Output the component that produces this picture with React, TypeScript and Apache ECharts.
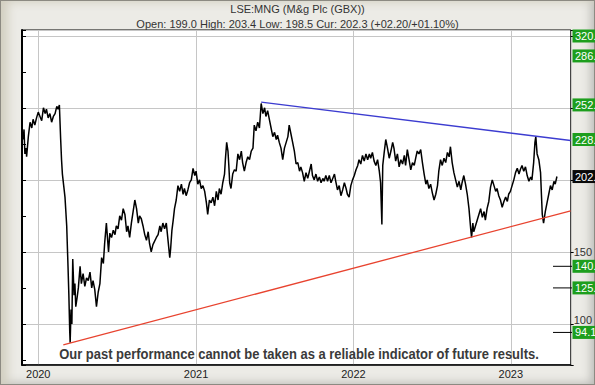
import React, { useEffect, useRef } from "react";
import * as echarts from "echarts";

const DAY = 86400000;
const EPOCH = Date.UTC(2020, 0, 1);
const FONT = "'Liberation Sans', Arial, sans-serif";

// Title texts
const TITLE = "LSE:MNG (M&g Plc (GBX))";
const SUBTITLE = "Open: 199.0 High: 203.4 Low: 198.5 Cur: 202.3 (+02.20/+01.10%)";
const DISCLAIMER = "Our past performance cannot be taken as a reliable indicator of future results.";

// Price readings: days since 1 Jan 2020 and price (GBX)
const dayOffsets = [
  -35, -33, -31, -28, -27, -23, -19, -15, -12, -8, -4, 0, 4, 8, 12, 16, 19, 23, 27, 31, 35, 39, 43, 46, 49, 52, 54, 56, 59, 62,
  64, 66, 69, 71, 73, 74, 76, 78, 80, 83, 85, 87, 90, 93, 97, 100, 104, 108, 112, 116, 120, 124, 127, 131, 135, 139, 143, 147, 151, 154,
  158, 161, 163, 166, 170, 174, 178, 181, 185, 189, 193, 197, 201, 205, 208, 212, 216, 220, 224, 228, 232, 235, 239, 243, 247, 251, 255, 258, 262, 266,
  274, 278, 282, 285, 289, 293, 297, 301, 305, 307, 310, 313, 316, 320, 324, 328, 332, 336, 339, 343, 347, 351, 355, 359, 363, 366, 370, 374, 378, 382,
  386, 390, 393, 397, 401, 405, 409, 413, 417, 420, 424, 428, 432, 434, 437, 440, 442, 444, 447, 451, 455, 459, 463, 467, 471, 474, 478, 482, 486, 490,
  494, 498, 501, 505, 509, 513, 517, 521, 525, 528, 532, 536, 540, 544, 548, 552, 555, 559, 563, 567, 571, 575, 579,
  582, 586, 590, 594, 598, 602, 606, 609, 613, 617, 621, 625, 629, 633, 636, 640, 644, 648, 652, 656, 660, 663, 667, 671, 675, 679, 683, 687, 690, 694,
  698, 702, 706, 710, 714, 717, 721, 725, 729, 733, 737, 741, 744, 748, 752, 756, 760, 764, 768, 771, 775, 779, 783, 787, 791, 794, 797, 799, 802, 806,
  810, 814, 818, 822, 825, 829, 833, 837, 841, 845, 849, 852, 856, 860, 864, 868, 872, 876, 879, 883, 887, 891,
  895, 899, 902, 906, 910, 914, 918, 922, 926, 929, 933, 937, 941, 945, 949, 953, 956, 960, 964, 968, 972, 976, 980, 983, 987, 991, 995, 999, 1003, 1005,
  1008, 1010, 1014, 1018, 1022, 1026, 1030, 1034, 1037, 1041, 1045, 1049, 1053, 1057, 1061, 1064, 1068, 1072, 1076, 1080, 1084, 1088, 1091, 1095, 1099, 1103, 1107, 1111, 1115, 1118,
  1122, 1126, 1130, 1134, 1138, 1142, 1145, 1149, 1152, 1154, 1157, 1161, 1165, 1167, 1169, 1172, 1176, 1180, 1184, 1188, 1192, 1196, 1199, 1203,
];
const prices = [
  228, 235, 218, 222, 216, 230, 240, 236, 242, 238, 243, 247, 244, 241, 250, 246, 249, 243, 246, 240, 244, 246, 251, 249, 252, 228, 214, 204, 196, 188,
  178, 168, 140, 120, 95, 87, 110, 100, 145, 120, 128, 112, 118, 125, 140, 128, 135, 126, 132, 130, 136, 125, 130, 124, 112, 122, 128, 146, 142, 156,
  170, 158, 150, 163, 160, 165, 162, 168, 166, 175, 172, 180, 176, 164, 168, 160, 170, 178, 186, 180, 170, 175, 173, 168, 162, 158, 164, 156, 150, 155,
  160, 162, 168, 164, 170, 166, 170, 158, 146, 152, 165, 172, 180, 186, 196, 192, 197, 190, 194, 189, 193, 198, 200, 208, 203, 206, 197, 200, 194, 196,
  192, 184, 176, 186, 184, 188, 182, 192, 186, 194, 190, 198, 204, 214, 226, 220, 210, 198, 194, 204, 207, 206, 218, 214, 220, 212, 206, 212, 216, 214,
  220, 222, 238, 234, 240, 236, 253, 246, 250, 244, 248, 242, 236, 230, 233, 228, 231, 226, 222, 214, 222, 226, 230,
  238, 232, 226, 220, 211, 212, 206, 209, 205, 199, 205, 201, 206, 211, 203, 200, 204, 199, 202, 198, 201, 199, 203, 199, 203, 198, 201, 204, 199, 193,
  196, 189, 193, 198, 194, 190, 188, 196, 200, 203, 207, 210, 214, 211, 217, 213, 218, 214, 218, 215, 219, 213, 210, 214, 206, 198, 169, 210, 218, 228,
  222, 215, 220, 226, 222, 213, 218, 209, 214, 211, 217, 210, 221, 214, 207, 212, 210, 216, 220, 218, 221, 212,
  204, 197, 200, 194, 197, 191, 186, 190, 196, 206, 214, 210, 215, 212, 219, 216, 223, 212, 205, 200, 195, 199, 193, 198, 203, 197, 190, 180, 166, 160,
  170, 164, 168, 172, 176, 180, 174, 178, 172, 180, 185, 195, 200, 196, 192, 194, 189, 186, 181, 185, 188, 185, 190, 192, 196, 200, 205, 208, 204, 207,
  210, 206, 209, 203, 199, 202, 200, 212, 226, 230, 218, 214, 205, 190, 176, 170, 178, 184, 190, 196, 193, 199, 197, 202.3,
];

// Axis extent (days since 1 Jan 2020, price)
const X_MIN_DAY = -37.7;
const X_MAX_DAY = 1234.8;
const Y_MIN = 71.5;
const Y_MAX = 304;
const yTickLabelsShown = [100, 150];
const yTickLabelsRaised = [100];

// Trend lines
const resistanceDays = [517, 1234.8];
const resistanceValues = [254, 227.3];
const supportDays = [58, 1234.8];
const supportValues = [85.5, 178.5];

// Right-hand price levels
const levelValues = [320, 286, 252, 228, 202.3, 140, 125, 94.1];
const levelTexts = ["320.", "286.", "252.", "228.", "202.", "140.", "125.", "94.1"];
const levelIsCurrent = [false, false, false, false, true, false, false, false];
const levelHasTick = [false, false, false, false, false, true, true, true];

const GRID = { left: 22, top: 30, right: 23, bottom: 20 };
const W = 595;
const H = 385;
const DISCLAIMER_FONT = `bold 14px ${FONT}`;
const DISCLAIMER_WIDTH = 480;

export default function App() {
  const ref = useRef<HTMLDivElement>(null);
  useEffect(() => {
    if (!ref.current) return;
    const chart = echarts.init(ref.current, undefined, { renderer: "svg" });
    const toT = (d: number) => EPOCH + d * DAY;
    chart.setOption({
      animation: false,
      useUTC: true,
      backgroundColor: "transparent",
      title: {
        text: TITLE,
        subtext: SUBTITLE,
        left: "center",
        top: 3,
        padding: 0,
        itemGap: 4,
        textStyle: { fontSize: 11, fontWeight: "normal", color: "#333", fontFamily: FONT },
        subtextStyle: { fontSize: 11, color: "#333", fontFamily: FONT },
      },
      grid: {
        left: GRID.left,
        top: GRID.top,
        right: GRID.right,
        bottom: GRID.bottom,
        show: true,
        backgroundColor: "#fff",
        borderColor: "#000",
        borderWidth: 1,
      },
      xAxis: {
        type: "time",
        min: toT(X_MIN_DAY),
        max: toT(X_MAX_DAY),
        minInterval: 365 * DAY,
        maxInterval: 366 * DAY,
        splitLine: { show: true, lineStyle: { color: "#c6c6c6", width: 1 } },
        axisLine: { show: true, lineStyle: { color: "#000", width: 1.5 } },
        axisTick: { show: false },
        axisLabel: {
          formatter: (v: number) => String(new Date(v).getUTCFullYear()),
          showMinLabel: false,
          showMaxLabel: false,
          color: "#222",
          fontSize: 11,
          margin: 3,
          fontFamily: FONT,
        },
      },
      yAxis: [
        {
          type: "value",
          position: "right",
          min: Y_MIN,
          max: Y_MAX,
          splitNumber: 5,
          splitLine: { show: true, lineStyle: { color: "#c6c6c6", width: 1 } },
          axisLine: { show: true, lineStyle: { color: "#444", width: 1 } },
          axisTick: { show: true, length: 3, lineStyle: { color: "#000" } },
          axisLabel: {
            formatter: (v: number) =>
              yTickLabelsShown.includes(v)
                ? yTickLabelsRaised.includes(v)
                  ? `{up|${v}}`
                  : String(v)
                : "",
            color: "#333",
            fontSize: 11,
            margin: 3,
            fontFamily: FONT,
            rich: { up: { fontSize: 11, color: "#333", fontFamily: FONT, padding: [0, 0, 7, 0] } },
          },
        },
        {
          type: "value",
          position: "left",
          min: Y_MIN,
          max: Y_MAX,
          splitNumber: 5,
          splitLine: { show: false },
          axisLine: { show: true, lineStyle: { color: "#000", width: 2 } },
          axisTick: { show: true, inside: true, length: 4, lineStyle: { color: "#000" } },
          minorTick: { show: true, splitNumber: 2, length: 4, lineStyle: { color: "#000" } },
          axisLabel: { show: false },
        },
      ],
      series: [
        {
          type: "line",
          name: "MNG",
          data: dayOffsets.map((d, i) => [toT(d), prices[i]]),
          showSymbol: false,
          lineStyle: { color: "#000", width: 1.5 },
          z: 3,
        },
        {
          type: "line",
          name: "Resistance",
          data: resistanceDays.map((d, i) => [toT(d), resistanceValues[i]]),
          showSymbol: false,
          lineStyle: { color: "#3c3cd0", width: 1.3 },
          z: 4,
        },
        {
          type: "line",
          name: "Support",
          data: supportDays.map((d, i) => [toT(d), supportValues[i]]),
          showSymbol: false,
          lineStyle: { color: "#e8432f", width: 1.3 },
          z: 4,
        },
      ],
    });

    const plotTop = GRID.top;
    const plotBottom = H - GRID.bottom;
    const axisX = W - GRID.right;
    const elements: any[] = [];
    levelValues.forEach((v, i) => {
      let cy = chart.convertToPixel({ yAxisIndex: 0 }, v) as number;
      cy = Math.max(plotTop + 6, Math.min(plotBottom - 6, cy));
      if (levelHasTick[i]) {
        elements.push({
          type: "line",
          shape: { x1: axisX - 19, y1: cy, x2: axisX, y2: cy },
          style: { stroke: "#000", lineWidth: 1 },
          z: 50,
        });
      }
      elements.push({
        type: "rect",
        shape: { x: axisX + 0.5, y: cy - 6.5, width: 26, height: 13 },
        style: { fill: levelIsCurrent[i] ? "#0a0a0a" : "#1d9e1d" },
        z: 60,
      });
      elements.push({
        type: "text",
        x: axisX + 3,
        y: cy,
        style: {
          text: levelTexts[i],
          fill: "#fff",
          font: `11px ${FONT}`,
          verticalAlign: "middle",
          textAlign: "left",
        },
        z: 61,
      });
    });

    let scaleX = 0.85;
    const ctx = document.createElement("canvas").getContext("2d");
    if (ctx) {
      ctx.font = DISCLAIMER_FONT;
      const w = ctx.measureText(DISCLAIMER).width;
      if (w > 0) scaleX = DISCLAIMER_WIDTH / w;
    }
    elements.push({
      type: "text",
      x: 299,
      y: 354,
      scaleX,
      style: {
        text: DISCLAIMER,
        fill: "#3a3a3a",
        font: DISCLAIMER_FONT,
        textAlign: "center",
        verticalAlign: "middle",
      },
      z: 70,
    });
    chart.setOption({ graphic: { elements } });

    return () => chart.dispose();
  }, []);

  return (
    <div
      style={{
        position: "fixed",
        left: 0,
        top: 0,
        width: W,
        height: H,
        background: "#ecebe6",
        boxShadow:
          "inset 0 0 0 1px #8c8a82, inset 14px 8px 10px -6px #d2cfc1, inset -10px -8px 10px -6px #b9b9b5",
      }}
    >
      <div ref={ref} style={{ position: "absolute", left: 0, top: 0, width: W, height: H }} />
    </div>
  );
}
